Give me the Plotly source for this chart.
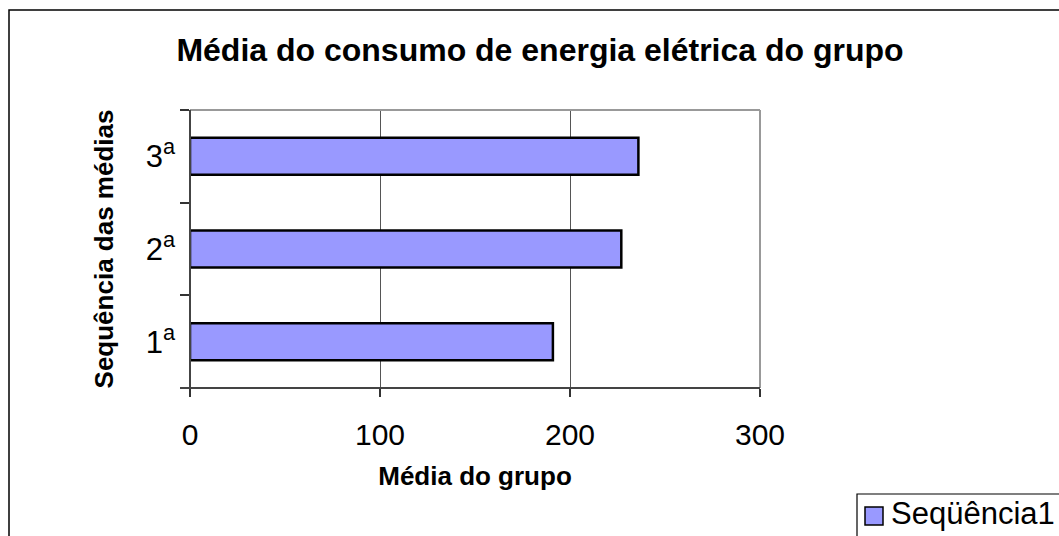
import plotly.graph_objects as go

# Average electricity consumption of the group, per measurement round
categories = ["1ª", "2ª", "3ª"]
tick_labels = ["1<sup>a</sup>", "2<sup>a</sup>", "3<sup>a</sup>"]
values = [191, 227, 236]
series_name = "Seqüência1"
x_ticks = [0, 100, 200, 300]

W, H = 1059, 536
L, R, T, B = 190, 760, 110, 388  # plot area in pixels


def px_x(p):
    return (p - L) / (R - L)


def px_y(p):
    return (B - p) / (B - T)


FONT = "Liberation Sans, Arial, sans-serif"

fig = go.Figure(
    go.Bar(
        x=values,
        y=categories,
        orientation="h",
        width=0.4,
        name=series_name,
        marker=dict(color="#9999FF", line=dict(color="black", width=2.5)),
        showlegend=False,
    )
)

fig.update_layout(
    width=W,
    height=H,
    margin=dict(l=L, r=W - R, t=T, b=H - B, pad=0),
    paper_bgcolor="white",
    plot_bgcolor="white",
    font=dict(family=FONT, color="black"),
    title=dict(
        text="<b>Média do consumo de energia elétrica do grupo</b>",
        x=px_x(540),
        xref="paper",
        xanchor="center",
        y=1 - 50 / H,
        yanchor="middle",
        font=dict(size=32, family=FONT),
    ),
    xaxis=dict(
        range=[0, 300],
        tickvals=x_ticks,
        ticktext=[str(v) for v in x_ticks],
        showgrid=True,
        gridcolor="#555555",
        gridwidth=1,
        zeroline=False,
        showline=False,
        ticks="outside",
        ticklen=8,
        tickcolor="#333333",
        tickwidth=1.5,
        tickfont=dict(size=30),
        ticklabelstandoff=12,
        title=dict(text="<b>Média do grupo</b>", font=dict(size=26), standoff=16),
    ),
    yaxis=dict(
        categoryorder="array",
        categoryarray=categories,
        tickvals=categories,
        ticktext=tick_labels,
        tickson="boundaries",
        ticks="outside",
        ticklen=9,
        tickcolor="#333333",
        tickwidth=1.5,
        showgrid=False,
        zeroline=False,
        showline=False,
        tickfont=dict(size=31),
        ticklabelstandoff=14,
        title=dict(text="<b>Sequência das médias</b>", font=dict(size=26), standoff=24),
    ),
    shapes=[
        # plot area frame (top and right)
        dict(type="line", xref="paper", yref="paper", x0=0, x1=1, y0=1, y1=1,
             line=dict(color="#999999", width=2)),
        dict(type="line", xref="paper", yref="paper", x0=1, x1=1, y0=0, y1=1,
             line=dict(color="#999999", width=2)),
        # axis lines
        dict(type="line", xref="paper", yref="paper", x0=0, x1=0, y0=0, y1=1,
             line=dict(color="#444444", width=2)),
        dict(type="line", xref="paper", yref="paper", x0=px_x(180), x1=1, y0=0, y1=0,
             line=dict(color="#444444", width=2)),
        # outer chart frame
        dict(type="rect", xref="paper", yref="paper",
             x0=px_x(9), x1=px_x(1075), y0=px_y(550), y1=px_y(10),
             line=dict(color="black", width=1.5), fillcolor="rgba(0,0,0,0)"),
        # legend box and swatch
        dict(type="rect", xref="paper", yref="paper",
             x0=px_x(857), x1=px_x(1075), y0=px_y(550), y1=px_y(494),
             line=dict(color="black", width=1.2), fillcolor="white"),
        dict(type="rect", xref="paper", yref="paper",
             x0=px_x(865), x1=px_x(883), y0=px_y(525), y1=px_y(507),
             line=dict(color="black", width=1.5), fillcolor="#9999FF"),
    ],
    annotations=[
        dict(text=series_name, xref="paper", yref="paper",
             x=px_x(889), y=px_y(513), xanchor="left", yanchor="middle",
             showarrow=False, font=dict(size=31, family=FONT)),
    ],
)

fig.write_html("out.html")
